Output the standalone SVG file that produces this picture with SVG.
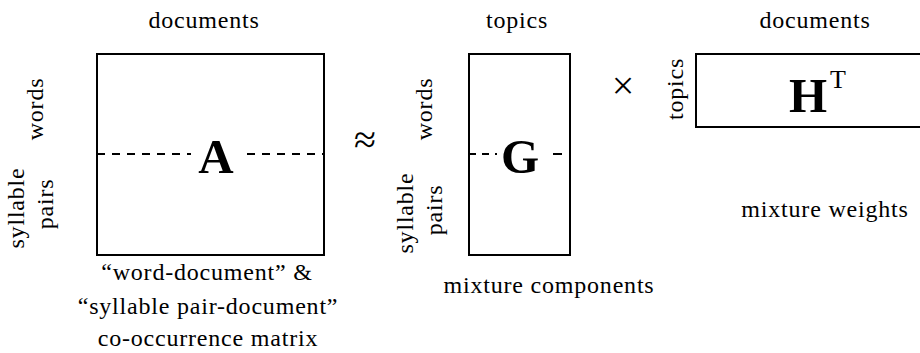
<svg xmlns="http://www.w3.org/2000/svg" width="920" height="353" viewBox="0 0 920 353">
<style>
.box{fill:#fff;stroke:#000;stroke-width:2}
.dash{stroke:#000;stroke-width:2;stroke-dasharray:8 7;fill:none}
.lbl{font-size:24px;letter-spacing:0.8px;fill:#000;text-anchor:middle}
.big{font-size:49px;font-weight:bold;fill:#000;text-anchor:middle}
.op{font-size:40px;fill:#000;text-anchor:middle}
</style>
<rect width="920" height="353" fill="#fff"/>
<g font-family="'Liberation Serif', 'Times New Roman', serif">
<g id="matrixA">
<rect class="box" x="97" y="54" width="227" height="201"/>
<line class="dash" x1="97" y1="154" x2="191" y2="154"/>
<line class="dash" x1="247" y1="154" x2="324" y2="154"/>
<text class="big" x="216" y="173">A</text>
<text class="lbl" x="204" y="28">documents</text>
<text class="lbl" transform="translate(43,109) rotate(-90)">words</text>
<text class="lbl" transform="translate(24,208) rotate(-90)">syllable</text>
<text class="lbl" transform="translate(53,204) rotate(-90)">pairs</text>
<text class="lbl" x="207" y="280">“word-document” &amp;</text>
<text class="lbl" x="208" y="314">“syllable pair-document”</text>
<text class="lbl" x="208" y="346">co-occurrence matrix</text>
</g>
<g id="approx">
<text class="op" x="365" y="153">≈</text>
</g>
<g id="matrixG">
<rect class="box" x="469" y="54" width="101" height="201"/>
<line class="dash" x1="469" y1="154" x2="497" y2="154" style="stroke-dasharray:7 6"/>
<line class="dash" x1="553" y1="154" x2="570" y2="154" style="stroke-dasharray:9 8"/>
<text class="big" x="520" y="173">G</text>
<text class="lbl" x="517" y="28">topics</text>
<text class="lbl" transform="translate(432,109) rotate(-90)">words</text>
<text class="lbl" transform="translate(413,213) rotate(-90)">syllable</text>
<text class="lbl" transform="translate(442,210) rotate(-90)">pairs</text>
<text class="lbl" x="549" y="293">mixture components</text>
</g>
<g id="times">
<text class="op" x="623" y="99">×</text>
</g>
<g id="matrixH">
<rect class="box" x="696" y="54" width="226" height="73"/>
<text class="big" x="808" y="112">H</text>
<text x="830" y="88" font-size="26" fill="#000">T</text>
<text class="lbl" x="815" y="28">documents</text>
<text class="lbl" transform="translate(683,89) rotate(-90)">topics</text>
<text class="lbl" x="825" y="217">mixture weights</text>
</g>
</g>
<g id="connectors"></g>
</svg>
